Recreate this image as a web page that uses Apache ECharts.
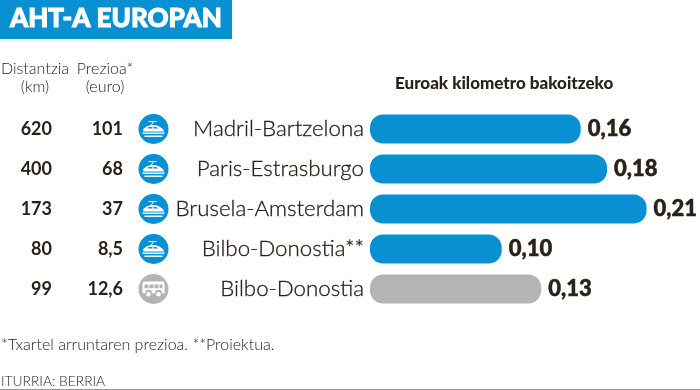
<!DOCTYPE html>
<html><head><meta charset="utf-8">
<script src="https://cdn.jsdelivr.net/npm/echarts@6/dist/echarts.min.js"></script>
<style>html,body{margin:0;padding:0;background:#fff}#c{width:700px;height:390px}</style>
</head><body><div id="c"></div>
<script>
const routes = ['Madril-Bartzelona','Paris-Estrasburgo','Brusela-Amsterdam','Bilbo-Donostia**','Bilbo-Donostia'];
const distances = ['620','400','173','80','99'];
const prices = ['101','68','37','8,5','12,6'];
const euroPerKm = [0.16,0.18,0.21,0.10,0.13];
const transport = ['train','train','train','train','bus'];

const BLUE='#0890d3', GREY='#b5b4b3', INK='#2a2119';
const colorOf = t => t==='bus' ? GREY : BLUE;
const TRAIN='path://M6 0H14V1H11L9.5 4H12Q19 5 22 10.5H1Q0 8 2 7Q4 5 8.5 4L10 1H6ZM6 6L5 7.5H10V6ZM11 6V7.5H15.5L14 6ZM0 11.5H22V13H0ZM2 14.5H20V16H2Z';
const BUS='path://M2 0H20Q22 0 22 2V12H19.5A3.5 3.5 0 0 0 12.5 12H9.5A3.5 3.5 0 0 0 2.5 12H0V2Q0 0 2 0ZM2 3V7H6V3ZM7 3V7H11V3ZM12 3V7H16V3ZM17 3V7H20V3ZM3.7 13A2.3 2.3 0 1 1 8.3 13A2.3 2.3 0 1 1 3.7 13ZM13.7 13A2.3 2.3 0 1 1 18.3 13A2.3 2.3 0 1 1 13.7 13Z';

const colAxis = (data,offset)=>({
  type:'category',inverse:true,data,gridIndex:0,position:'left',offset,
  axisLine:{show:false},axisTick:{show:false},splitLine:{show:false},
  axisLabel:{margin:0,color:INK,fontFamily:'Lato',fontWeight:700,fontSize:18,interval:0}
});
const head=(text,x,y)=>({text,left:x,top:y,textAlign:'center',padding:0,itemGap:0,
  textStyle:{fontFamily:'Lato',fontWeight:300,fontSize:16,lineHeight:18,color:INK}});

const chart=echarts.init(document.getElementById('c'),null,{renderer:'canvas'});
chart.setOption({
  animation:false,backgroundColor:'#fff',
  graphic:[
    {type:'rect',z:-1,shape:{x:0,y:0,width:232,height:39},style:{fill:BLUE}},
    {type:'rect',z:-1,shape:{x:0,y:389,width:700,height:1},style:{fill:'#999'}}
  ],
  title:[
    {text:'AHT-A EUROPAN',left:10,top:6,padding:0,textStyle:{fontFamily:'Lato',fontWeight:900,fontSize:26,color:'#fff',textBorderColor:'#fff',textBorderWidth:1}},
    head('Distantzia\n(km)',35,60),
    head('Prezioa*\n(euro)',105,60),
    {text:'Euroak kilometro bakoitzeko',left:395,top:75,padding:0,textStyle:{fontFamily:'Lato',fontWeight:900,fontSize:17,color:INK}},
    {text:'*Txartel arruntaren prezioa. **Proiektua.',left:1,top:337,padding:0,textStyle:{fontFamily:'Lato',fontWeight:300,fontSize:16,color:INK}},
    {text:'ITURRIA: BERRIA',left:1,top:375,padding:0,textStyle:{fontFamily:'Lato',fontWeight:300,fontSize:13.8,color:INK}}
  ],
  grid:[
    {left:370,top:109,width:329.25,height:200},
    {left:138,top:109,width:31,height:200}
  ],
  xAxis:[
    {type:'value',min:0,max:0.25,show:false,gridIndex:0},
    {type:'value',min:-1,max:1,show:false,gridIndex:1}
  ],
  yAxis:[
    Object.assign(colAxis(routes,6),{axisLabel:{margin:0,color:INK,fontFamily:'Lato',fontWeight:300,fontSize:22.3,interval:0,textBorderColor:INK,textBorderWidth:0.3}}),
    colAxis(distances,318),
    colAxis(prices,247),
    {type:'category',inverse:true,data:routes,gridIndex:1,show:false}
  ],
  series:[
    {type:'bar',xAxisIndex:0,yAxisIndex:0,barWidth:29,silent:true,
     data:euroPerKm.map((v,i)=>({value:v,itemStyle:{color:colorOf(transport[i]),borderRadius:13}})),
     label:{show:true,position:'right',distance:7,color:INK,fontFamily:'Lato',fontWeight:900,fontSize:22,textBorderColor:INK,textBorderWidth:0.5,
       formatter:p=>p.value.toFixed(2).replace('.',',')}},
    {type:'scatter',xAxisIndex:1,yAxisIndex:3,symbol:'circle',symbolSize:30,silent:true,
     data:routes.map((r,i)=>({value:[0,i],itemStyle:{color:colorOf(transport[i]),opacity:1}}))},
    {type:'scatter',xAxisIndex:1,yAxisIndex:3,silent:true,z:3,
     data:routes.map((r,i)=>({value:[0,i],symbol:transport[i]==='bus'?BUS:TRAIN,symbolSize:transport[i]==='bus'?[22,15]:[22,16],itemStyle:{color:'#fff',opacity:1}}))}
  ]
});
</script></body></html>
